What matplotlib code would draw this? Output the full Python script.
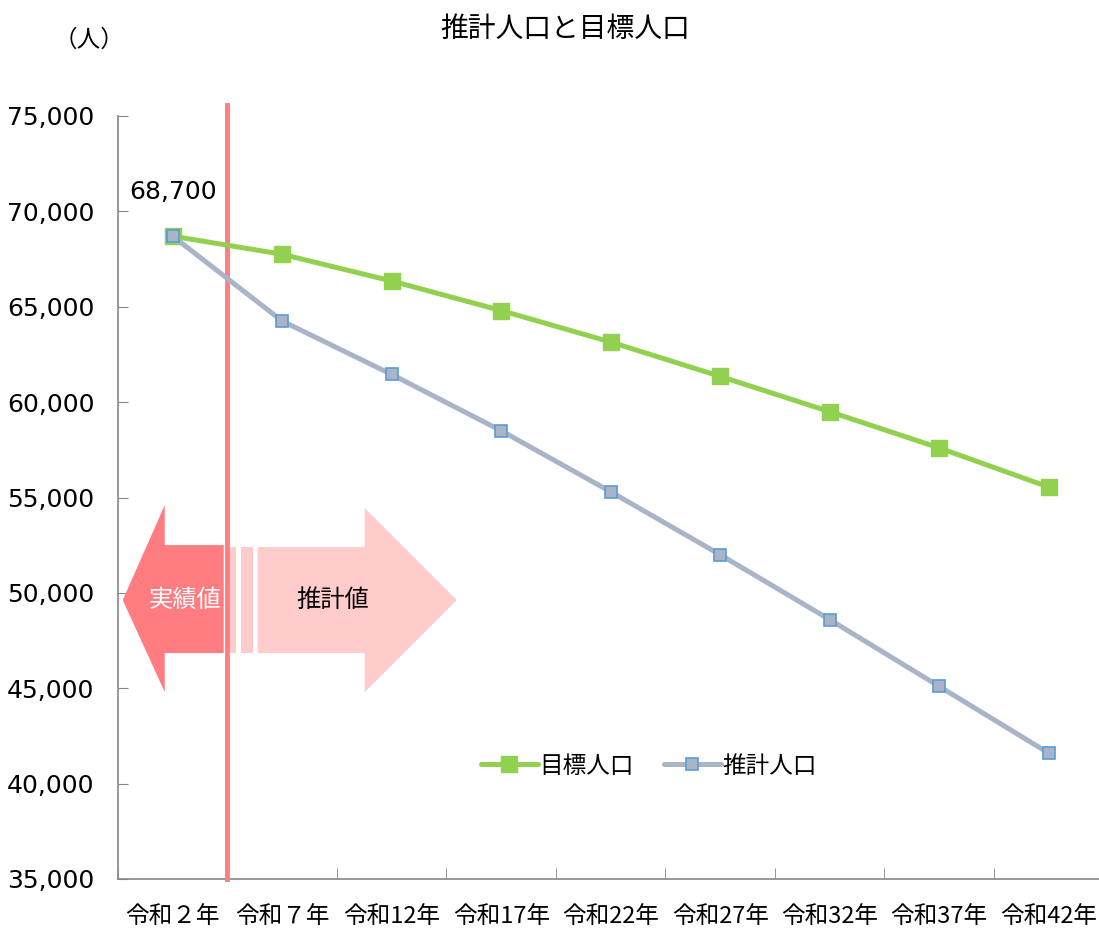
import matplotlib
matplotlib.use("Agg")
import matplotlib.pyplot as plt
from matplotlib.patches import Polygon, Rectangle
from matplotlib.ticker import FuncFormatter, FixedLocator

plt.rcParams['font.family'] = ['Noto Sans CJK JP', 'DejaVu Sans']

labels = ['令和２年', '令和７年', '令和12年', '令和17年', '令和22年',
          '令和27年', '令和32年', '令和37年', '令和42年']
target = [68700, 67750, 66350, 64800, 63150, 61350, 59500, 57600, 55550]
estimate = [68700, 64250, 61450, 58500, 55300, 52000, 48600, 45100, 41600]

green = '#92D050'
grey = '#A9B4C9'
blue_edge = '#5B9BD5'
red = '#FF7C80'
pink = '#FFCCCC'
num_font = ['DejaVu Sans', 'Noto Sans CJK JP']

fig = plt.figure(figsize=(10.99, 9.31), dpi=100)
ax = fig.add_axes([118 / 1099, 1 - 879 / 931, 981 / 1099, 763 / 931])

x = list(range(len(labels)))
ax.plot(x, target, color=green, lw=3.6, marker='s', ms=11,
        mfc=green, mec=green, label='目標人口', zorder=4, solid_capstyle='round')
ax.plot(x, estimate, color=grey, lw=3.6, marker='s', ms=9,
        mfc=grey, mec=blue_edge, mew=1.2, label='推計人口', zorder=5, solid_capstyle='round')

ax.set_xlim(-0.5, 8.46)
ax.set_ylim(35000, 75000)
ax.set_yticks(range(35000, 75001, 5000))
ax.yaxis.set_major_formatter(FuncFormatter(lambda v, p: f'{int(v):,}'))
for t in ax.get_yticklabels():
    t.set_family(num_font)
    t.set_fontsize(18)

ax.set_xticks(x)
ax.set_xticklabels(labels, fontsize=17)
ax.xaxis.set_minor_locator(FixedLocator([i + 0.5 for i in range(-1, 9)]))
ax.tick_params(axis='x', which='major', length=0, pad=19)
ax.tick_params(axis='x', which='minor', direction='in', length=8, color='#868686')
ax.tick_params(axis='y', direction='in', length=7, color='#868686', pad=17)

for s in ['top', 'right']:
    ax.spines[s].set_visible(False)
for s in ['left', 'bottom']:
    ax.spines[s].set_color('#868686')
    ax.spines[s].set_linewidth(1.2)

# 実績 / 推計 boundary
ax.plot([0.5, 0.5], [35000, 75600], color=red, lw=3.5, clip_on=False, zorder=3)

# arrows (data coords)
def px(p):
    return (p - 173) / 109.5

def py(p):
    return 35000 + (879 - p) / 95.4 * 5000

left_arrow = [(px(123), py(600)), (px(165), py(505)), (px(165), py(545)),
              (px(224), py(545)), (px(224), py(653)), (px(165), py(653)),
              (px(165), py(692))]
ax.add_patch(Polygon(left_arrow, closed=True, color=red, lw=0, zorder=2))
right_arrow = [(px(258), py(547)), (px(365), py(547)), (px(365), py(508)),
               (px(457), py(600)), (px(365), py(692)), (px(365), py(653)),
               (px(258), py(653))]
ax.add_patch(Polygon(right_arrow, closed=True, color=pink, lw=0, zorder=2))
for a, b in [(230, 236), (241, 253)]:
    ax.add_patch(Rectangle((px(a), py(653)), px(b) - px(a), py(547) - py(653),
                           color=pink, lw=0, zorder=2))
ax.text(px(185), py(600), '実績値', color='white', fontsize=17.5,
        ha='center', va='center', zorder=3)
ax.text(px(333), py(600), '推計値', color='black', fontsize=17.5,
        ha='center', va='center', zorder=3)

ax.text(0, target[0] + 2300, f'{target[0]:,}', fontsize=18, family=num_font,
        ha='center', va='center')

fig.text(565 / 1099, 1 - 29 / 931, '推計人口と目標人口', fontsize=20,
         ha='center', va='center')
fig.text(89 / 1099, 1 - 40 / 931, '（人）', fontsize=17, ha='center', va='center')

ax.legend(loc='center', bbox_to_anchor=(0.541, 0.148), ncol=2, frameon=False,
          fontsize=17, handlelength=2.4, columnspacing=1.3, handletextpad=0.05)

fig.savefig('out.png', dpi=100)
